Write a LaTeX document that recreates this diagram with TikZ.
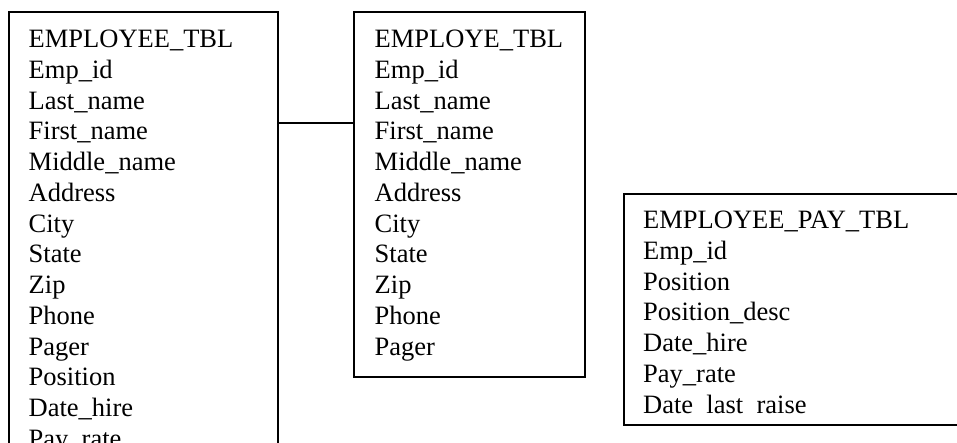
\documentclass[tikz,border=0pt]{standalone}
\usepackage{fontspec}
\setmainfont{Liberation Serif}
\begin{document}
\begin{tikzpicture}[x=1pt,y=1pt,
  tbl/.style={draw=black, line width=1.6pt, rectangle, inner sep=0pt, anchor=north west},
  fld/.style={anchor=base west, inner sep=0pt, font=\fontsize{26.5}{30.77}\selectfont},
  link/.style={draw=black, line width=1.6pt}]
\useasboundingbox (0,0) rectangle (957,-442);
\clip (0,0) rectangle (957,-442);
% table boxes
\node[tbl, minimum width=269pt, minimum height=470pt] (emp) at (8,-11) {};
\node[tbl, minimum width=231pt, minimum height=365pt] (empb) at (353,-11) {};
\node[tbl, minimum width=360pt, minimum height=231pt] (pay) at (623,-193) {};
% connector
\coordinate (j) at (0,-123);
\draw[link] (emp.east |- j) -- (empb.west |- j);
% fields of EMPLOYEE_TBL
\foreach \t [count=\i from 0] in {EMPLOYEE\_TBL,Emp\_id,Last\_name,First\_name,Middle\_name,Address,City,State,Zip,Phone,Pager,Position,Date\_hire,Pay\_rate}
  \node[fld] (a\i) at (28.5,{-47.5-30.77*\i}) {\t};
% fields of EMPLOYE_TBL
\foreach \t [count=\i from 0] in {EMPLOYE\_TBL,Emp\_id,Last\_name,First\_name,Middle\_name,Address,City,State,Zip,Phone,Pager}
  \node[fld] (b\i) at (374.5,{-47.5-30.77*\i}) {\t};
% fields of EMPLOYEE_PAY_TBL
\foreach \t [count=\i from 0] in {EMPLOYEE\_PAY\_TBL,Emp\_id,Position,Position\_desc,Date\_hire,Pay\_rate,Date\phantom{\_}last\phantom{\_}raise}
  \node[fld] (c\i) at (643,{-228.5-30.77*\i}) {\t};
\end{tikzpicture}
\end{document}
